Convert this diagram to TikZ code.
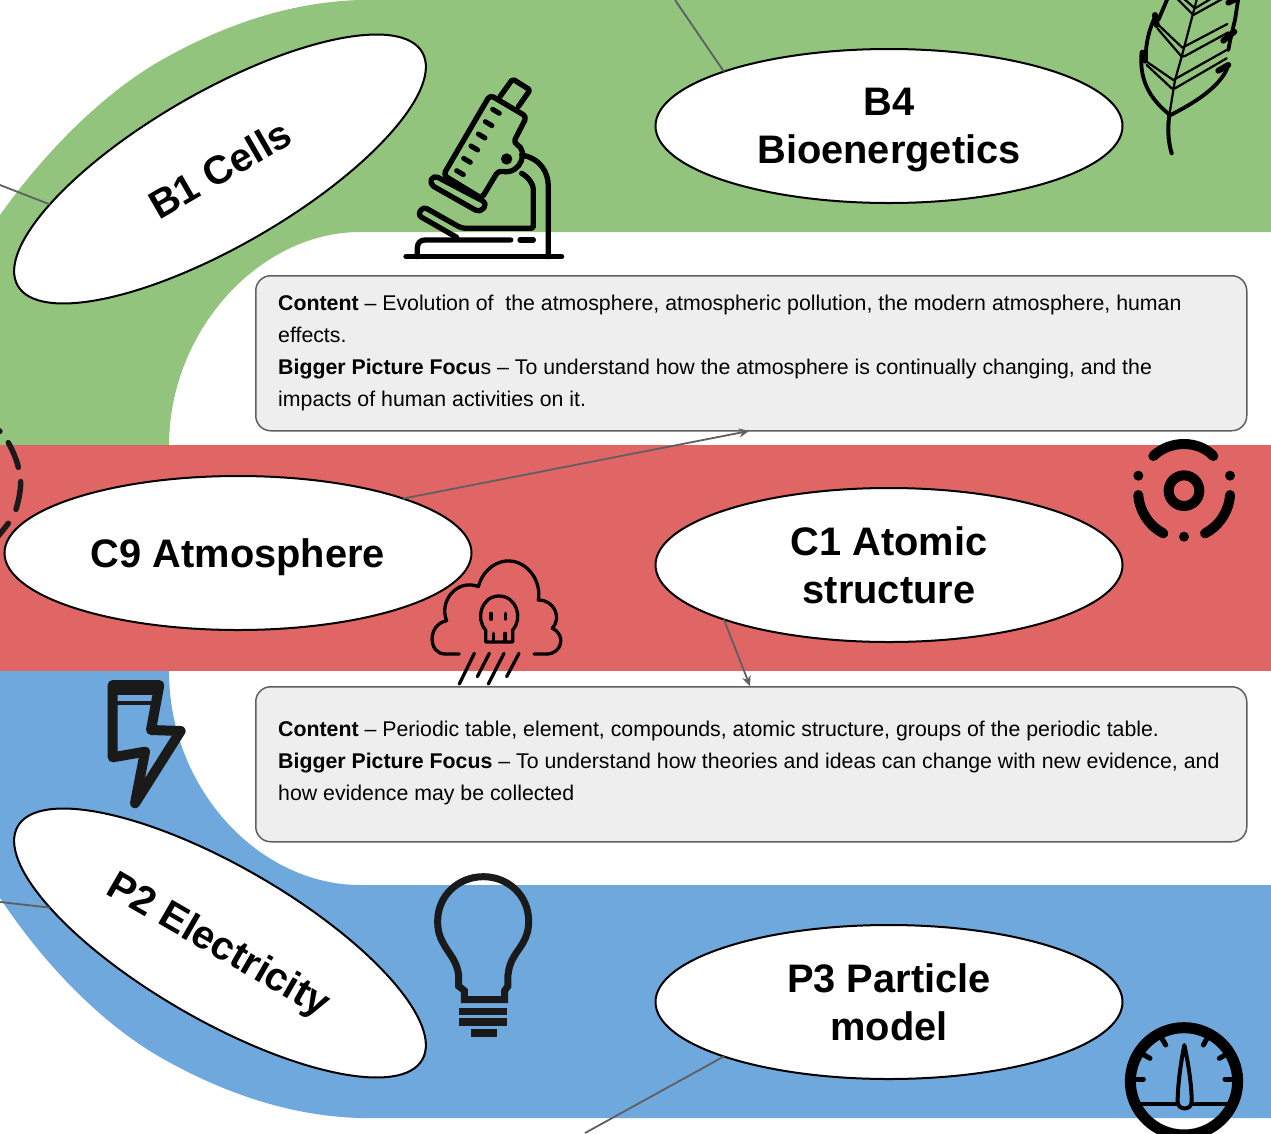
\documentclass[tikz,border=0pt]{standalone}
\usepackage{fontspec}
\setmainfont{Liberation Sans}
\usetikzlibrary{shapes.geometric,arrows.meta}
\definecolor{bandgreen}{HTML}{93C47D}
\definecolor{bandred}{HTML}{E06666}
\definecolor{bandblue}{HTML}{6FA8DC}
\definecolor{boxfill}{HTML}{EEEEEE}
\definecolor{linegray}{HTML}{5F5F5F}
\definecolor{icondark}{HTML}{1A1A1A}
\newcommand{\nodepth}[1]{\raisebox{0pt}[\height][0pt]{#1}}
\tikzset{
 topic/.style={ellipse,draw=black,line width=2pt,fill=white,outer sep=0pt,minimum width=467pt,minimum height=154pt,inner sep=0pt,align=center,font=\fontsize{39.8}{48}\selectfont\bfseries},
 infobox/.style={draw=linegray,line width=1.5pt,fill=boxfill,rounded corners=15pt,outer sep=0pt,inner sep=0pt,anchor=north west,minimum width=991pt,minimum height=155pt},
 infotext/.style={anchor=north west,inner sep=0pt,align=left,font=\fontsize{21.3}{32}\selectfont},
 link/.style={draw=linegray,line width=1.8pt},
 linkarrow/.style={link,-{Stealth[length=10pt,width=9pt]}},
 icon/.style={draw=black,line cap=round,line join=round},
 zoomed/.style={x=0.3333pt,y=-0.3333pt}
}
\begin{document}
\begin{tikzpicture}[x=1pt,y=-1pt]
\useasboundingbox (0,0) rectangle (1271,1133);
\clip (0,0) rectangle (1271,1133);
\fill[white] (0,0) rectangle (1271,1133);
% bands
\fill[bandgreen] (1271,0) -- (360,0) .. controls (290,2) and (225,25) .. (167,57) .. controls (110,88) and (50,145) .. (0,215) -- (0,446) -- (169,446) .. controls (169,330) and (260,232) .. (360,232) -- (1271,232) -- cycle;
\fill[bandblue] (1271,885) -- (360,885) .. controls (260,885) and (169,790) .. (169,671) -- (0,671) -- (0,898) .. controls (50,973) and (110,1030) .. (167,1061) .. controls (225,1093) and (290,1116) .. (360,1118) -- (1271,1118) -- cycle;
\fill[bandred] (0,445) rectangle (1271,671);
% dashed circle at left edge
\begin{scope}[shift={(0,410)},zoomed]
\draw[draw=icondark,line width=5.5pt,line cap=round] (25,98) .. controls (40,125) and (50,150) .. (55,172);
\draw[draw=icondark,line width=5.5pt,line cap=round] (62,215) .. controls (62,245) and (55,275) .. (48,298);
\draw[draw=icondark,line width=5.5pt,line cap=round] (25,340) -- (-5,378);
\draw[draw=icondark,line width=5.5pt,line cap=round] (-6,60) -- (0,64);
\end{scope}
% boxes
\node[infobox] (box1) at (255.75,275.75) {};
\node[infobox] (box2) at (255.75,686.75) {};
\node[infotext] (text1) at (278,295) {\textbf{Content} -- Evolution of \ the atmosphere, atmospheric pollution, the modern atmosphere, human\\effects.\\\textbf{Bigger Picture Focu}s -- To understand how the atmosphere is continually changing, and the\\impacts of human activities on it.};
\node[infotext] (text2) at (278,721) {\textbf{Content} -- Periodic table, element, compounds, atomic structure, groups of the periodic table.\\\textbf{Bigger Picture Focus} -- To understand how theories and ideas can change with new evidence, and\\how evidence may be collected};
% ellipses
\node[topic,rotate=30] (b1) at (220,169) {B1 Cells};
\node[topic] (b4) at (889,126) {B4\\\nodepth{Bioenergetics}};
\node[topic] (c9) at (238,553) {\nodepth{C9 Atmosphere}};
\node[topic] (c1) at (889,565) {C1 Atomic\\structure};
\node[topic,rotate=-30] (p2) at (220,943) {\nodepth{P2 Electricity}};
\node[topic] (p3) at (889,1002) {P3 Particle\\model};
% connectors
\coordinate (b4end) at (675,0);
\coordinate (b1end) at (0,185);
\coordinate (p2end) at (0,902);
\coordinate (p3end) at (585,1133);
\coordinate (c9tip) at (749,431);
\coordinate (c1tip) at (750,686);
\draw[link] (b4.north west) -- (b4end);
\draw[link] (b1.north west) -- (b1end);
\draw[link] (p2.south west) -- (p2end);
\draw[link] (p3.south west) -- (p3end);
\draw[linkarrow] (c9.north east) -- (c9tip);
\draw[linkarrow] (c1.south west) -- (c1tip);
% microscope
\begin{scope}[shift={(380,60)},zoomed,icon,line width=5.3pt]
\draw[rounded corners=2pt] (360,110) -- (398,57) -- (450,90) -- (415,140);
\draw[rounded corners=4pt] (330,105) -- (440,170) -- (400,248) .. controls (445,270) and (425,345) .. (355,332) -- (305,415) -- (190,345) -- cycle;
\fill (380,297) circle[radius=17];
\draw[rounded corners=5pt] (160,345) -- (322,430) -- (300,458) -- (148,372) -- cycle;
\draw (425,285) .. controls (480,295) and (505,335) .. (505,380) -- (505,590);
\draw[rounded corners=4pt] (425,340) .. controls (450,355) and (460,375) .. (460,400) -- (460,490) .. controls (460,500) and (455,505) .. (445,505) -- (245,505) -- (130,440) -- (113,465) -- (230,532);
\draw (392,540) -- (135,540) .. controls (120,540) and (112,550) .. (112,565) -- (112,590);
\draw (420,540) -- (460,540);
\draw (78,590) -- (545,590);
\foreach \ax/\ay in {338/148,316/185,295/222,273/258,251/295,230/332}
  \draw[line width=5pt] (\ax,\ay) -- ++(20,12);
\end{scope}
% leaf
\begin{scope}[shift={(1120,0)},zoomed,icon]
\draw[line width=4pt] (155,460) .. controls (143,420) and (143,380) .. (148,345);
\draw[line width=2.2pt] (148,345) -- (165,240) -- (185,170) -- (235,-20);
\draw[line width=3.8pt] (150,345) .. controls (100,305) and (55,250) .. (65,155);
\draw[line width=3.8pt] (78,180) .. controls (75,130) and (90,80) .. (108,45);
\draw[line width=3.8pt] (115,60) -- (145,-10);
\draw[line width=3.8pt] (152,345) .. controls (220,310) and (295,265) .. (322,205);
\draw[line width=3.8pt] (325,150) .. controls (330,120) and (340,80) .. (345,60) -- (355,-5);
\draw[line width=6pt] (68,158) -- (75,182);
\draw[line width=6pt] (105,45) -- (110,75);
\draw[line width=6pt] (295,212) -- (325,195);
\draw[line width=6pt] (310,122) -- (343,95);
\draw[line width=6pt] (325,8) -- (352,-5);
\draw[line width=2.2pt] (65,175) -- (160,240) -- (320,150);
\draw[line width=2.2pt] (80,195) -- (155,265) -- (165,265) -- (320,175);
\draw[line width=2.2pt] (105,65) -- (187,143) -- (322,72);
\draw[line width=2.2pt] (112,85) -- (185,170) -- (195,168) -- (325,97);
\draw[line width=2.2pt] (170,-5) -- (220,45) -- (310,-5);
\draw[line width=2.2pt] (190,-5) -- (225,25) -- (275,-5);
\end{scope}
% atom
\begin{scope}[shift={(1120,430)},zoomed,icon,line width=10pt]
\draw (192,182) circle[radius=46];
\draw (100,78) .. controls (150,30) and (235,30) .. (280,78);
\draw (55,195) .. controls (58,245) and (90,290) .. (130,310);
\draw (330,195) .. controls (327,245) and (295,290) .. (255,310);
\fill (55,137) circle[radius=15];
\fill (330,137) circle[radius=15];
\fill (192,320) circle[radius=15];
\end{scope}
% cloud
\begin{scope}[shift={(420,550)},zoomed,icon,line width=3.3pt]
\draw (118,312) -- (75,312) .. controls (25,312) and (20,225) .. (80,212) .. controls (55,150) and (115,85) .. (175,110) .. controls (190,55) and (235,30) .. (270,33) .. controls (320,35) and (365,90) .. (355,150) .. controls (405,150) and (425,205) .. (397,235) .. controls (440,255) and (425,312) .. (380,312) -- (342,312);
\draw (197,240) .. controls (165,205) and (185,138) .. (237,138) .. controls (290,138) and (310,205) .. (278,240) -- (278,276) -- (197,276) -- cycle;
\draw (220,250) -- (220,275);
\draw (255,250) -- (255,275);
\draw (213,190) -- (213,208);
\draw (257,190) -- (257,208);
\draw (163,310) -- (118,402);
\draw (208,310) -- (172,380);
\draw (252,310) -- (205,402);
\draw (297,310) -- (260,380);
\end{scope}
% bolt
\begin{scope}[shift={(90,670)},zoomed,draw=icondark,line join=round,line cap=round]
\draw[line width=10pt] (68,45) -- (208,45) -- (183,180) -- (272,183) -- (135,400) -- (165,245) -- (68,262) -- cycle;
\fill[icondark] (68,45) rectangle (205,75);
\draw[line width=4pt] (80,98) -- (190,98);
\end{scope}
% bulb
\begin{scope}[shift={(420,860)},zoomed,draw=icondark]
\draw[line width=7pt,line join=miter] (133,419) -- (133,392) -- (116,378) -- (116,345) .. controls (110,300) and (85,280) .. (70,250) .. controls (58,230) and (53,210) .. (53,183) .. controls (53,107) and (115,50) .. (190,50) .. controls (265,50) and (326,107) .. (326,183) .. controls (326,210) and (320,230) .. (308,250) .. controls (290,280) and (268,300) .. (264,345) -- (264,378) -- (254,392) -- (254,419) -- cycle;
\fill[icondark] (118,443) rectangle (262,465);
\fill[icondark] (118,475) rectangle (262,497);
\fill[icondark] (152,508) rectangle (230,530);
\end{scope}
% gauge
\begin{scope}[shift={(1110,1010)},zoomed,icon]
\draw[line width=11pt] (222,214) circle[radius=161];
\draw[line width=4pt] (85,282) -- (197,282);
\draw[line width=4pt] (250,282) -- (365,282);
\draw[line width=4pt] (223,105) .. controls (212,160) and (203,225) .. (203,275) .. controls (203,302) and (245,302) .. (245,275) .. controls (245,225) and (235,160) .. (223,105) -- cycle;
\draw[line width=5pt] (100,207) -- (70,207);
\draw[line width=5pt] (345,207) -- (378,207);
\draw[line width=5pt] (120,145) -- (90,128);
\draw[line width=5pt] (328,145) -- (358,128);
\draw[line width=5pt] (167,105) -- (150,75);
\draw[line width=5pt] (280,105) -- (297,75);
\end{scope}
\end{tikzpicture}
\end{document}
